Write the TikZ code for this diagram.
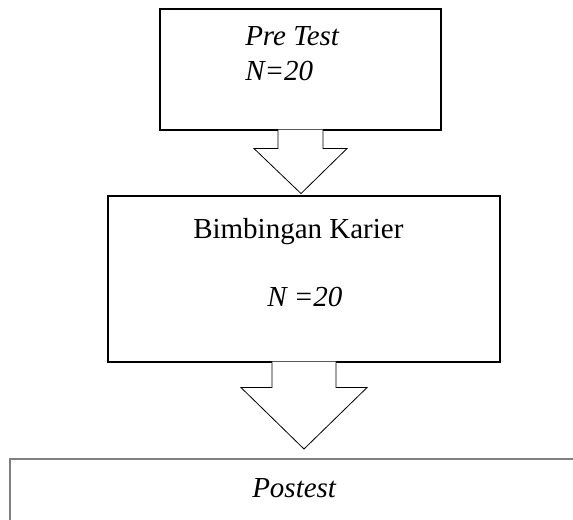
\documentclass[tikz,border=0pt]{standalone}
\usepackage{fontspec}
\setmainfont{Liberation Serif}
\usetikzlibrary{calc}

\tikzset{
  box/.style={draw, line width=0.8pt, inner sep=0pt},
  lbl/.style={inner sep=0pt, anchor=base west, font=\fontsize{21.75}{26}\selectfont},
  blockarrow/.style={draw, fill=white, line width=0.6pt}
}

\begin{document}
\begin{tikzpicture}[x=0.75pt,y=-0.75pt]
\useasboundingbox (0,0) rectangle (573,519);
\clip (0,0) rectangle (573,519);
% boxes
\node[box, minimum width=210.75pt, minimum height=90.75pt] (pre) at (300.5,69.5) {};
\node[box, minimum width=294pt, minimum height=124.5pt] (bimb) at (304,279) {};
\node[box, draw=gray, line width=1.5pt, minimum width=442.5pt, minimum height=75.75pt] (post) at (305,509.5) {};
% texts
\node[lbl] (pretxt) at (245,45) {\itshape Pre Test};
\node[lbl] (pren) at (245,80) {\itshape N=20};
\node[lbl] (bimbtxt) at (193,238) {Bimbingan Karier};
\node[lbl] (bimbn) at (267,306) {\itshape N =20};
\node[lbl] (posttxt) at (252,497) {\itshape Postest};
% block arrows
\draw[blockarrow] ($(pre.south)+(-22.5,-1)$) -- ++(0,19) -- ++(-24,0)
  -- ($(pre.south)+(0.5,63)$) -- ($(pre.south)+(46.5,18)$) -- ++(-24,0) -- ++(0,-19);
\draw[blockarrow] ($(bimb.south)+(-32,-1)$) -- ++(0,26) -- ++(-31,0)
  -- ($(post.north)+(-1,-9)$) -- ($(bimb.south)+(63,25)$) -- ++(-31,0) -- ++(0,-26);
\end{tikzpicture}
\end{document}
